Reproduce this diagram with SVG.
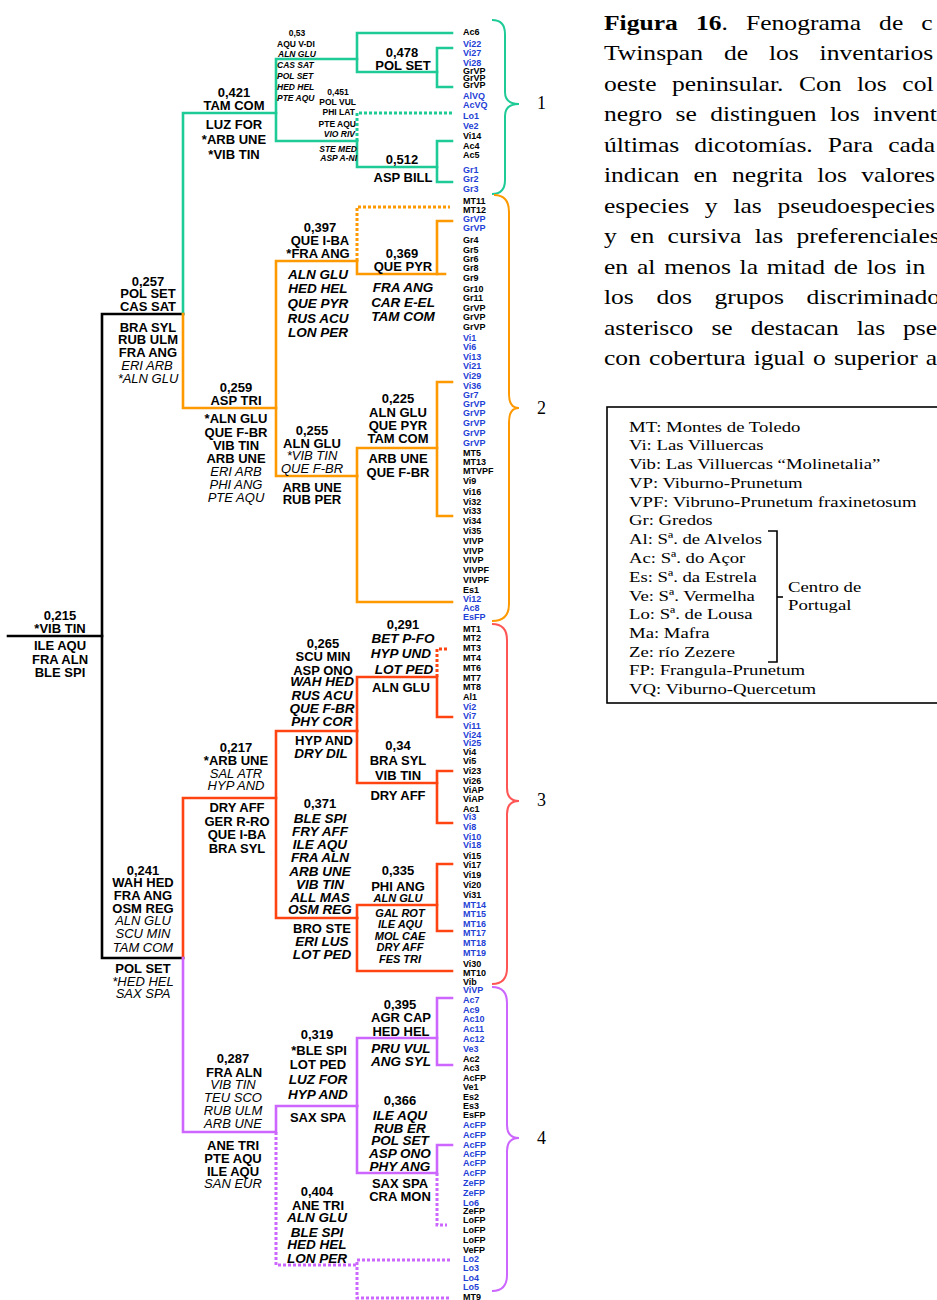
<svg xmlns="http://www.w3.org/2000/svg" width="937" height="1300" viewBox="0 0 937 1300">
<style>
text{font-family:"Liberation Sans",Arial,sans-serif;fill:#000}
.b{font-weight:bold;font-size:13px;text-anchor:middle}
.i{font-style:italic;font-size:13px;text-anchor:middle}
.i5{font-style:italic;font-weight:bold;font-size:13.5px;text-anchor:middle}
.s{font-weight:bold;font-size:8.5px}
.si{font-style:italic;font-weight:bold;font-size:8.5px}
.m{font-style:italic;font-weight:bold;font-size:11px;text-anchor:middle}
.lf text{font-weight:bold;font-size:9px}
.lf .bl{fill:#1F3FD6}
.ln{fill:none;stroke-width:2.6;stroke-linejoin:miter;stroke-linecap:square}
.dt{stroke-dasharray:3 2;stroke-width:3;stroke-linecap:butt}
.k{stroke:#000}.gr{stroke:#1ECB96}.or{stroke:#FF9900}.rd{stroke:#FF4411}.pu{stroke:#CC66FF}
.br{fill:none;stroke-width:2}
.cap text{font-family:"Liberation Serif","Times New Roman",serif;font-size:21.3px}
.leg text{font-family:"Liberation Serif","Times New Roman",serif;font-size:15.6px}
.num text{font-family:"Liberation Serif","Times New Roman",serif;font-size:18px}
</style>

<g id="connectors">
<polyline class="ln k" points="8,636 102,636"/>
<polyline class="ln k" points="183,314 102,314 102,958 183,958"/>
<g class="ln gr">
<polyline points="183,314 183,113 276,113"/>
<polyline points="357,59 276,59 276,141 357,141"/>
<polyline points="452,33 357,33 357,72 437,72"/>
<polyline points="452,48 437,48 437,87 452,87"/>
<polyline points="357,141 357,167 437,167"/>
<polyline points="452,141 437,141 437,182 452,182"/>
<polyline class="dt" points="357,141 357,113 452,113"/>
</g>
<g class="ln or">
<polyline points="183,314 183,408 276,408"/>
<polyline points="357,261 276,261 276,476 357,476"/>
<polyline points="357,261 357,274 445,274"/>
<polyline points="437,274 437,221 452,221"/>
<polyline class="dt" points="357,261 357,207 450,207"/>
<polyline points="357,476 357,448 437,448"/>
<polyline points="357,476 357,602 452,602"/>
<polyline points="452,382 437,382 437,516 452,516"/>
</g>
<g class="ln rd">
<polyline points="183,958 183,798 276,798"/>
<polyline points="357,731 276,731 276,918 357,918"/>
<polyline points="357,731 357,677 437,677 437,717 452,717"/>
<polyline class="dt" points="437,677 437,649 447,649"/>
<polyline points="357,731 357,783 437,783"/>
<polyline points="452,771 437,771 437,823 452,823"/>
<polyline points="357,918 357,905 437,905"/>
<polyline points="357,918 357,971 452,971"/>
<polyline points="452,864 437,864 437,931 452,931"/>
</g>
<g class="ln pu">
<polyline points="183,958 183,1132 276,1132 276,1106 357,1106"/>
<polyline points="357,1106 357,1038 437,1038"/>
<polyline points="452,998 437,998 437,1065 452,1065"/>
<polyline points="357,1106 357,1173 437,1173 437,1145 452,1145"/>
<polyline class="dt" points="437,1173 437,1225 447,1225"/>
<polyline class="dt" points="276,1132 276,1265 357,1265"/>
<polyline class="dt" points="450,1260 357,1260 357,1298 450,1298"/>
</g>
<path class="br" stroke="#1ECB96" d="M492,20 Q505,20 505,34 L505,92 Q505,104 519,104 Q505,104 505,116 L505,180 Q505,194 492,194"/>
<path class="br" stroke="#FF9900" d="M494,195 Q509,195 509,212 L509,394 Q509,408 519,408 Q509,408 509,422 L509,604 Q509,621 492,621"/>
<path class="br" stroke="#FF5555" d="M492,624 Q507,624 507,640 L507,788 Q507,801 519,801 Q507,801 507,814 L507,968 Q507,984 492,984"/>
<path class="br" stroke="#CC66FF" d="M492,987 Q507,987 507,1003 L507,1125 Q507,1138 519,1138 Q507,1138 507,1151 L507,1275 Q507,1291 492,1291"/>
</g>

<g id="cluster-numbers" class="num">
<text x="537" y="109">1</text>
<text x="537" y="414">2</text>
<text x="537" y="806">3</text>
<text x="537" y="1144">4</text>
</g>

<g id="n0215">
<text class="b" x="60" y="620">0,215</text>
<text class="b" x="60" y="633">*VIB TIN</text>
<text class="b" x="60" y="650">ILE AQU</text>
<text class="b" x="60" y="664">FRA ALN</text>
<text class="b" x="60" y="677">BLE SPI</text>
</g>
<g id="n0257">
<text class="b" x="148" y="286">0,257</text>
<text class="b" x="148" y="298">POL SET</text>
<text class="b" x="148" y="311">CAS SAT</text>
<text class="b" x="148" y="332">BRA SYL</text>
<text class="b" x="148" y="344">RUB ULM</text>
<text class="b" x="148" y="357">FRA ANG</text>
<text class="i" x="147" y="370">ERI ARB</text>
<text class="i" x="148" y="383">*ALN GLU</text>
</g>
<g id="n0421">
<text class="b" x="234" y="97">0,421</text>
<text class="b" x="234" y="110">TAM COM</text>
<text class="b" x="234" y="129">LUZ FOR</text>
<text class="b" x="234" y="144">*ARB UNE</text>
<text class="b" x="234" y="159">*VIB TIN</text>
</g>
<g id="n053">
<text class="s" x="297" y="36" text-anchor="middle">0,53</text>
<text class="s" x="277" y="47">AQU V-DI</text>
<text class="si" x="278" y="57">ALN GLU</text>
<text class="si" x="277" y="68">CAS SAT</text>
<text class="si" x="277" y="79">POL SET</text>
<text class="si" x="277" y="90">HED HEL</text>
<text class="si" x="277" y="101">PTE AQU</text>
</g>
<g id="n0451">
<text class="s" x="338" y="95" text-anchor="middle">0,451</text>
<text class="s" x="356" y="105" text-anchor="end">POL VUL</text>
<text class="s" x="355" y="115" text-anchor="end">PHI LAT</text>
<text class="s" x="356" y="127" text-anchor="end">PTE AQU</text>
<text class="si" x="355" y="137" text-anchor="end">VIO RIV</text>
<text class="si" x="357" y="152" text-anchor="end">STE MED</text>
<text class="si" x="357" y="161" text-anchor="end">ASP A-NI</text>
</g>
<g id="n0478">
<text class="b" x="402" y="57">0,478</text>
<text class="b" x="403" y="70">POL SET</text>
</g>
<g id="n0512">
<text class="b" x="402" y="164">0,512</text>
<text class="b" x="403" y="182">ASP BILL</text>
</g>
<g id="n0259">
<text class="b" x="236" y="392">0,259</text>
<text class="b" x="236" y="405">ASP TRI</text>
<text class="b" x="236" y="423">*ALN GLU</text>
<text class="b" x="236" y="437">QUE F-BR</text>
<text class="b" x="236" y="450">VIB TIN</text>
<text class="b" x="236" y="463">ARB UNE</text>
<text class="i" x="236" y="476">ERI ARB</text>
<text class="i" x="236" y="489">PHI ANG</text>
<text class="i" x="236" y="502">PTE AQU</text>
</g>
<g id="n0397">
<text class="b" x="320" y="232">0,397</text>
<text class="b" x="320" y="245">QUE I-BA</text>
<text class="b" x="318" y="258">*FRA ANG</text>
<text class="i5" x="318" y="279">ALN GLU</text>
<text class="i5" x="318" y="293">HED HEL</text>
<text class="i5" x="318" y="308">QUE PYR</text>
<text class="i5" x="318" y="323">RUS ACU</text>
<text class="i5" x="318" y="337">LON PER</text>
</g>
<g id="n0369">
<text class="b" x="402" y="258">0,369</text>
<text class="b" x="403" y="271">QUE PYR</text>
<text class="i5" x="403" y="292">FRA ANG</text>
<text class="i5" x="403" y="307">CAR E-EL</text>
<text class="i5" x="403" y="321">TAM COM</text>
</g>
<g id="n0255">
<text class="b" x="312" y="435">0,255</text>
<text class="b" x="312" y="448">ALN GLU</text>
<text class="i" x="312" y="460">*VIB TIN</text>
<text class="i" x="312" y="473">QUE F-BR</text>
<text class="b" x="312" y="492">ARB UNE</text>
<text class="b" x="312" y="504">RUB PER</text>
</g>
<g id="n0225">
<text class="b" x="398" y="403">0,225</text>
<text class="b" x="398" y="417">ALN GLU</text>
<text class="b" x="398" y="430">QUE PYR</text>
<text class="b" x="398" y="443">TAM COM</text>
<text class="b" x="398" y="463">ARB UNE</text>
<text class="b" x="398" y="477">QUE F-BR</text>
</g>
<g id="n0241">
<text class="b" x="143" y="875">0,241</text>
<text class="b" x="143" y="887">WAH HED</text>
<text class="b" x="143" y="900">FRA ANG</text>
<text class="b" x="143" y="913">OSM REG</text>
<text class="i" x="143" y="925">ALN GLU</text>
<text class="i" x="143" y="938">SCU MIN</text>
<text class="i" x="143" y="952">TAM COM</text>
<text class="b" x="143" y="973">POL SET</text>
<text class="i" x="143" y="986">*HED HEL</text>
<text class="i" x="143" y="998">SAX SPA</text>
</g>
<g id="n0217">
<text class="b" x="236" y="752">0,217</text>
<text class="b" x="236" y="765">*ARB UNE</text>
<text class="i" x="236" y="778">SAL ATR</text>
<text class="i" x="236" y="790">HYP AND</text>
<text class="b" x="237" y="812">DRY AFF</text>
<text class="b" x="237" y="826">GER R-RO</text>
<text class="b" x="237" y="839">QUE I-BA</text>
<text class="b" x="237" y="853">BRA SYL</text>
</g>
<g id="n0265">
<text class="b" x="323" y="648">0,265</text>
<text class="b" x="323" y="661">SCU MIN</text>
<text class="b" x="323" y="675">ASP ONO</text>
<text class="i5" x="322" y="686">WAH HED</text>
<text class="i5" x="322" y="700">RUS ACU</text>
<text class="i5" x="322" y="713">QUE F-BR</text>
<text class="i5" x="322" y="726">PHY COR</text>
<text class="b" x="324" y="745">HYP AND</text>
<text class="i5" x="321" y="758">DRY DIL</text>
</g>
<g id="n0291">
<text class="b" x="403" y="629">0,291</text>
<text class="i5" x="403" y="643">BET P-FO</text>
<text class="i5" x="401" y="658">HYP UND</text>
<text class="i5" x="404" y="674">LOT PED</text>
<text class="b" x="401" y="692">ALN GLU</text>
</g>
<g id="n034">
<text class="b" x="398" y="750">0,34</text>
<text class="b" x="398" y="765">BRA SYL</text>
<text class="b" x="398" y="780">VIB TIN</text>
<text class="b" x="398" y="800">DRY AFF</text>
</g>
<g id="n0371">
<text class="b" x="320" y="808">0,371</text>
<text class="i5" x="320" y="823">BLE SPI</text>
<text class="i5" x="320" y="836">FRY AFF</text>
<text class="i5" x="320" y="849">ILE AQU</text>
<text class="i5" x="320" y="862">FRA ALN</text>
<text class="i5" x="320" y="876">ARB UNE</text>
<text class="i5" x="320" y="889">VIB TIN</text>
<text class="i5" x="320" y="902">ALL MAS</text>
<text class="i5" x="320" y="914">OSM REG</text>
<text class="b" x="322" y="933">BRO STE</text>
<text class="i5" x="322" y="946">ERI LUS</text>
<text class="i5" x="322" y="959">LOT PED</text>
</g>
<g id="n0335">
<text class="b" x="398" y="875">0,335</text>
<text class="b" x="398" y="891">PHI ANG</text>
<text class="m" x="398" y="902">ALN GLU</text>
<text class="m" x="400" y="917">GAL ROT</text>
<text class="m" x="400" y="928">ILE AQU</text>
<text class="m" x="400" y="940">MOL CAE</text>
<text class="m" x="400" y="951">DRY AFF</text>
<text class="m" x="400" y="963">FES TRI</text>
</g>
<g id="n0287">
<text class="b" x="233" y="1063">0,287</text>
<text class="b" x="234" y="1077">FRA ALN</text>
<text class="i" x="233" y="1089">VIB TIN</text>
<text class="i" x="233" y="1102">TEU SCO</text>
<text class="i" x="233" y="1115">RUB ULM</text>
<text class="i" x="233" y="1128">ARB UNE</text>
<text class="b" x="233" y="1150">ANE TRI</text>
<text class="b" x="233" y="1163">PTE AQU</text>
<text class="b" x="233" y="1176">ILE AQU</text>
<text class="i" x="233" y="1188">SAN EUR</text>
</g>
<g id="n0319">
<text class="b" x="317" y="1039">0,319</text>
<text class="b" x="319" y="1055">*BLE SPI</text>
<text class="b" x="318" y="1069">LOT PED</text>
<text class="i5" x="318" y="1084">LUZ FOR</text>
<text class="i5" x="318" y="1099">HYP AND</text>
<text class="b" x="318" y="1122">SAX SPA</text>
</g>
<g id="n0395">
<text class="b" x="400" y="1009">0,395</text>
<text class="b" x="401" y="1022">AGR CAP</text>
<text class="b" x="401" y="1036">HED HEL</text>
<text class="i5" x="401" y="1053">PRU VUL</text>
<text class="i5" x="401" y="1066">ANG SYL</text>
</g>
<g id="n0366">
<text class="b" x="400" y="1105">0,366</text>
<text class="i5" x="400" y="1120">ILE AQU</text>
<text class="i5" x="400" y="1133">RUB ER</text>
<text class="i5" x="400" y="1145">POL SET</text>
<text class="i5" x="400" y="1158">ASP ONO</text>
<text class="i5" x="400" y="1171">PHY ANG</text>
<text class="b" x="400" y="1188">SAX SPA</text>
<text class="b" x="400" y="1201">CRA MON</text>
</g>
<g id="n0404">
<text class="b" x="317" y="1196">0,404</text>
<text class="b" x="318" y="1210">ANE TRI</text>
<text class="i5" x="317" y="1222">ALN GLU</text>
<text class="i5" x="317" y="1237">BLE SPI</text>
<text class="i5" x="317" y="1249">HED HEL</text>
<text class="i5" x="317" y="1263">LON PER</text>
</g>

<g id="leaves" class="lf">
<text x="463" y="35">Ac6</text>
<text class="bl" x="463" y="47">Vi22</text>
<text class="bl" x="463" y="56">Vi27</text>
<text class="bl" x="463" y="66">Vi28</text>
<text x="463" y="74">GrVP</text>
<text x="463" y="81">GrVP</text>
<text x="463" y="88">GrVP</text>
<text class="bl" x="463" y="99">AlVQ</text>
<text class="bl" x="463" y="108">AcVQ</text>
<text class="bl" x="463" y="119">Lo1</text>
<text class="bl" x="463" y="129">Ve2</text>
<text x="463" y="139">Vi14</text>
<text x="463" y="149">Ac4</text>
<text x="463" y="158">Ac5</text>
<text class="bl" x="463" y="173">Gr1</text>
<text class="bl" x="463" y="182">Gr2</text>
<text class="bl" x="463" y="192">Gr3</text>
<text x="463" y="204">MT11</text>
<text x="463" y="213">MT12</text>
<text class="bl" x="463" y="222">GrVP</text>
<text class="bl" x="463" y="231">GrVP</text>
<text x="463" y="243">Gr4</text>
<text x="463" y="253">Gr5</text>
<text x="463" y="262">Gr6</text>
<text x="463" y="271">Gr8</text>
<text x="463" y="281">Gr9</text>
<text x="463" y="292">Gr10</text>
<text x="463" y="301">Gr11</text>
<text x="463" y="311">GrVP</text>
<text x="463" y="320">GrVP</text>
<text x="463" y="330">GrVP</text>
<text class="bl" x="463" y="341">Vi1</text>
<text class="bl" x="463" y="350">Vi6</text>
<text class="bl" x="463" y="360">Vi13</text>
<text class="bl" x="463" y="369">Vi21</text>
<text class="bl" x="463" y="379">Vi29</text>
<text class="bl" x="463" y="389">Vi36</text>
<text class="bl" x="463" y="398">Gr7</text>
<text class="bl" x="463" y="407">GrVP</text>
<text class="bl" x="463" y="416">GrVP</text>
<text class="bl" x="463" y="426">GrVP</text>
<text class="bl" x="463" y="436">GrVP</text>
<text class="bl" x="463" y="446">GrVP</text>
<text x="463" y="456">MT5</text>
<text x="463" y="465">MT13</text>
<text x="463" y="474">MTVPF</text>
<text x="463" y="484">Vi9</text>
<text x="463" y="495">Vi16</text>
<text x="463" y="505">Vi32</text>
<text x="463" y="514">Vi33</text>
<text x="463" y="524">Vi34</text>
<text x="463" y="534">Vi35</text>
<text x="463" y="544">VIVP</text>
<text x="463" y="554">VIVP</text>
<text x="463" y="563">VIVP</text>
<text x="463" y="573">VIVPF</text>
<text x="463" y="583">VIVPF</text>
<text x="463" y="593">Es1</text>
<text class="bl" x="463" y="602">Vi12</text>
<text class="bl" x="463" y="611">Ac8</text>
<text class="bl" x="463" y="620">EsFP</text>
<text x="463" y="632">MT1</text>
<text x="463" y="641">MT2</text>
<text x="463" y="651">MT3</text>
<text x="463" y="661">MT4</text>
<text x="463" y="671">MT6</text>
<text x="463" y="681">MT7</text>
<text x="463" y="690">MT8</text>
<text x="463" y="700">Al1</text>
<text class="bl" x="463" y="710">Vi2</text>
<text class="bl" x="463" y="719">Vi7</text>
<text class="bl" x="463" y="729">Vi11</text>
<text class="bl" x="463" y="738">Vi24</text>
<text class="bl" x="463" y="746">Vi25</text>
<text x="463" y="755">Vi4</text>
<text x="463" y="764">Vi5</text>
<text x="463" y="774">Vi23</text>
<text x="463" y="784">Vi26</text>
<text x="463" y="793">ViAP</text>
<text x="463" y="802">ViAP</text>
<text x="463" y="812">Ac1</text>
<text class="bl" x="463" y="820">Vi3</text>
<text class="bl" x="463" y="830">Vi8</text>
<text class="bl" x="463" y="840">Vi10</text>
<text class="bl" x="463" y="848">Vi18</text>
<text x="463" y="859">Vi15</text>
<text x="463" y="868">Vi17</text>
<text x="463" y="878">Vi19</text>
<text x="463" y="888">Vi20</text>
<text x="463" y="898">Vi31</text>
<text class="bl" x="463" y="908">MT14</text>
<text class="bl" x="463" y="917">MT15</text>
<text class="bl" x="463" y="927">MT16</text>
<text class="bl" x="463" y="936">MT17</text>
<text class="bl" x="463" y="946">MT18</text>
<text class="bl" x="463" y="956">MT19</text>
<text x="463" y="967">Vi30</text>
<text x="463" y="976">MT10</text>
<text x="463" y="985">Vib</text>
<text class="bl" x="463" y="993">ViVP</text>
<text class="bl" x="463" y="1003">Ac7</text>
<text class="bl" x="463" y="1013">Ac9</text>
<text class="bl" x="463" y="1022">Ac10</text>
<text class="bl" x="463" y="1032">Ac11</text>
<text class="bl" x="463" y="1042">Ac12</text>
<text class="bl" x="463" y="1052">Ve3</text>
<text x="463" y="1062">Ac2</text>
<text x="463" y="1071">Ac3</text>
<text x="463" y="1081">AcFP</text>
<text x="463" y="1090">Ve1</text>
<text x="463" y="1100">Es2</text>
<text x="463" y="1109">Es3</text>
<text x="463" y="1118">EsFP</text>
<text class="bl" x="463" y="1128">AcFP</text>
<text class="bl" x="463" y="1138">AcFP</text>
<text class="bl" x="463" y="1148">AcFP</text>
<text class="bl" x="463" y="1157">AcFP</text>
<text class="bl" x="463" y="1166">AcFP</text>
<text class="bl" x="463" y="1176">AcFP</text>
<text class="bl" x="463" y="1186">ZeFP</text>
<text class="bl" x="463" y="1196">ZeFP</text>
<text class="bl" x="463" y="1206">Lo6</text>
<text x="463" y="1214">ZeFP</text>
<text x="463" y="1223">LoFP</text>
<text x="463" y="1233">LoFP</text>
<text x="463" y="1243">LoFP</text>
<text x="463" y="1253">VeFP</text>
<text class="bl" x="463" y="1262">Lo2</text>
<text class="bl" x="463" y="1271">Lo3</text>
<text class="bl" x="463" y="1281">Lo4</text>
<text class="bl" x="463" y="1290">Lo5</text>
<text x="463" y="1300">MT9</text>
</g>

<g id="caption" class="cap" transform="translate(604,0) scale(1.2,1)">
<text x="0" y="30" word-spacing="9.8"><tspan font-weight="bold">Figura 16</tspan>. Fenograma de c</text>
<text x="0" y="60.5" word-spacing="12.1">Twinspan de los inventarios</text>
<text x="0" y="91" word-spacing="7.6">oeste peninsular. Con los col</text>
<text x="0" y="121.5" word-spacing="5.8">negro se distinguen los invent</text>
<text x="0" y="152" word-spacing="7.2">últimas dicotomías. Para cada</text>
<text x="0" y="182.5" word-spacing="6.6">indican en negrita los valores</text>
<text x="0" y="213" word-spacing="7.8">especies y las pseudoespecies</text>
<text x="0" y="243.5" word-spacing="5.8">y en cursiva las preferenciales</text>
<text x="0" y="274" word-spacing="2">en al menos la mitad de los in</text>
<text x="0" y="304.5" word-spacing="13.5">los dos grupos discriminado</text>
<text x="0" y="335" word-spacing="9.7">asterisco se destacan las pse</text>
<text x="0" y="365.5" word-spacing="1.5">con cobertura igual o superior a</text>
</g>

<g id="legend">
<rect x="607" y="407" width="345" height="296" fill="none" stroke="#000" stroke-width="1.6"/>
<polyline fill="none" stroke="#000" stroke-width="1.6" points="768,531 777,531 777,662 768,662"/>
<line x1="777" y1="597" x2="783" y2="597" stroke="#000" stroke-width="1.6"/>
<g class="leg" transform="translate(629,0) scale(1.2,1)">
<text x="0" y="432">MT: Montes de Toledo</text>
<text x="0" y="450">Vi: Las Villuercas</text>
<text x="0" y="469">Vib: Las Villuercas “Molinetalia”</text>
<text x="0" y="488">VP: Viburno-Prunetum</text>
<text x="0" y="507">VPF: Vibruno-Prunetum fraxinetosum</text>
<text x="0" y="525">Gr: Gredos</text>
<text x="0" y="544">Al: Sª. de Alvelos</text>
<text x="0" y="563">Ac: Sª. do Açor</text>
<text x="0" y="582">Es: Sª. da Estrela</text>
<text x="0" y="601">Ve: Sª. Vermelha</text>
<text x="0" y="619">Lo: Sª. de Lousa</text>
<text x="0" y="638">Ma: Mafra</text>
<text x="0" y="657">Ze: río Zezere</text>
<text x="0" y="675">FP: Frangula-Prunetum</text>
<text x="0" y="694">VQ: Viburno-Quercetum</text>
</g>
<g class="leg" transform="translate(788,0) scale(1.2,1)">
<text x="0" y="592">Centro de</text>
<text x="0" y="610">Portugal</text>
</g>
</g>
</svg>
